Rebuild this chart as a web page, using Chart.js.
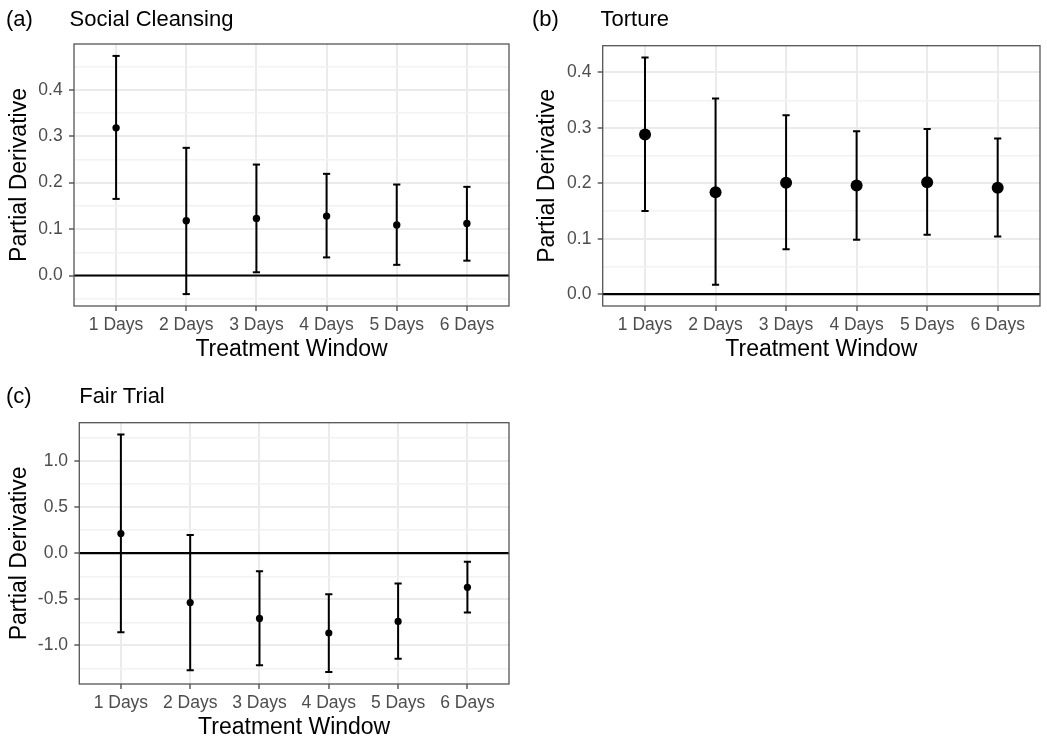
<!DOCTYPE html>
<html><head><meta charset="utf-8">
<script src="https://cdn.jsdelivr.net/npm/chart.js@4.4.1/dist/chart.umd.min.js"></script>
<style>
html,body{margin:0;padding:0;background:#fff;}
body{width:1047px;height:739px;position:relative;overflow:hidden;font-family:"Liberation Sans",Arial,sans-serif;}
canvas{position:absolute;}
.t{position:absolute;font-size:22px;line-height:22px;color:#000;white-space:nowrap;}
</style></head><body>
<canvas id="ca" width="520" height="370" style="left:0;top:0"></canvas>
<canvas id="cb" width="527" height="370" style="left:520px;top:0"></canvas>
<canvas id="cc" width="520" height="380" style="left:0;top:370px"></canvas>
<div class="t" style="left:6px;top:8px">(a)</div>
<div class="t" style="left:69.6px;top:8px">Social Cleansing</div>
<div class="t" style="left:532px;top:7.5px">(b)</div>
<div class="t" style="left:600.5px;top:7.5px">Torture</div>
<div class="t" style="left:6px;top:384.7px">(c)</div>
<div class="t" style="left:79.2px;top:384.7px">Fair Trial</div>
<script>
const categories = ["1 Days","2 Days","3 Days","4 Days","5 Days","6 Days"];
const estA  = [0.318, 0.118, 0.123, 0.128, 0.109, 0.112];
const lowA  = [0.165, -0.040, 0.007, 0.039, 0.023, 0.032];
const highA = [0.473, 0.275, 0.239, 0.219, 0.196, 0.191];
const estB  = [0.288, 0.184, 0.201, 0.196, 0.202, 0.192];
const lowB  = [0.150, 0.017, 0.081, 0.098, 0.107, 0.104];
const highB = [0.427, 0.353, 0.323, 0.294, 0.298, 0.281];
const estC  = [0.212, -0.535, -0.707, -0.865, -0.740, -0.370];
const lowC  = [-0.858, -1.268, -1.214, -1.289, -1.145, -0.643];
const highC = [1.285, 0.197, -0.197, -0.445, -0.330, -0.093];
const yTicksA = [0.0, 0.1, 0.2, 0.3, 0.4];
const yTicksB = [0.0, 0.1, 0.2, 0.3, 0.4];
const yTicksC = [-1.0, -0.5, 0.0, 0.5, 1.0];
const xTitle = "Treatment Window";
const yTitle = "Partial Derivative";

const FAMILY = "'Liberation Sans', Arial, Helvetica, sans-serif";
Chart.defaults.font.family = FAMILY;

const framePlugin = {
  id: 'frame',
  beforeDatasetsDraw(chart) {
    const {ctx, chartArea: a, scales: {y}} = chart;
    const py = y.getPixelForValue(0);
    ctx.save();
    ctx.strokeStyle = '#000'; ctx.lineWidth = 2.2;
    ctx.beginPath(); ctx.moveTo(a.left, py); ctx.lineTo(a.right, py); ctx.stroke();
    ctx.restore();
  },
  afterDraw(chart) {
    const {ctx, chartArea: a} = chart;
    ctx.save();
    ctx.strokeStyle = '#555'; ctx.lineWidth = 1.3;
    ctx.strokeRect(a.left, a.top, a.right - a.left, a.bottom - a.top);
    ctx.restore();
  }
};

function makePanel(id, est, low, high, majors, lay) {
  const lo = Math.min(0, ...low), hi = Math.max(0, ...high);
  const pad = 0.05 * (hi - lo);
  const yMin = lo - pad, yMax = hi + pad;
  const step = majors[1] - majors[0];
  const minors = [];
  for (let i = 0; i < majors.length - 1; i++) minors.push((majors[i] + majors[i+1]) / 2);
  minors.push(majors[0] - step / 2, majors[majors.length-1] + step / 2);
  const allTicks = majors.concat(minors).filter(v => v >= yMin && v <= yMax).sort((a,b)=>a-b);
  const isMajor = v => majors.some(m => Math.abs(m - v) < 1e-9);

  const errLine = [];
  low.forEach((l, i) => { errLine.push({x: i+1, y: l}, {x: i+1, y: high[i]}, {x: i+1, y: null}); });
  const pts = a => a.map((v, i) => ({x: i+1, y: v}));

  new Chart(document.getElementById(id), {
    type: 'line',
    data: { datasets: [
      { data: errLine, borderColor: '#000', borderWidth: 2, pointRadius: 0, spanGaps: false, fill: false },
      { data: pts(high), showLine: false, pointStyle: 'line', pointRadius: 3.6, borderColor: '#000', pointBorderWidth: 2, borderWidth: 2 },
      { data: pts(low), showLine: false, pointStyle: 'line', pointRadius: 3.6, borderColor: '#000', pointBorderWidth: 2, borderWidth: 2 },
      { data: pts(est), showLine: false, pointStyle: 'circle', pointRadius: lay.r, backgroundColor: '#000', pointBackgroundColor: '#000', pointBorderWidth: 0, borderWidth: 0 }
    ]},
    options: {
      responsive: false, animation: false, devicePixelRatio: 1, events: [],
      layout: { padding: { left: lay.L, right: lay.R, top: lay.T, bottom: lay.B } },
      plugins: { legend: { display: false }, tooltip: { enabled: false }, title: { display: false } },
      scales: {
        x: {
          type: 'linear', min: 0.4, max: categories.length + 0.6,
          afterBuildTicks: s => { s.ticks = categories.map((c, i) => ({value: i + 1})); },
          afterFit: s => { s.height = lay.xH; },
          ticks: { callback: v => categories[Math.round(v) - 1], color: '#4d4d4d', font: {size: 17.5}, padding: 4, autoSkip: false, maxRotation: 0 },
          grid: { color: '#ebebeb', lineWidth: 2, drawTicks: true, tickLength: 5, tickColor: '#333', tickWidth: 1.2 },
          border: { display: false },
          title: { display: true, text: xTitle, color: '#000', font: {size: 23}, padding: 0 }
        },
        y: {
          type: 'linear', min: yMin, max: yMax,
          afterBuildTicks: s => { s.ticks = allTicks.map(v => ({value: v})); },
          afterFit: s => { s.width = lay.yW; },
          ticks: { callback: v => isMajor(v) ? v.toFixed(1) : '', color: '#4d4d4d', font: {size: 17.5}, padding: 6.3, autoSkip: false },
          grid: {
            color: c => (c.tick && !isMajor(c.tick.value)) ? '#f2f2f2' : '#ebebeb',
            lineWidth: c => (c.tick && !isMajor(c.tick.value)) ? 1.4 : 2,
            tickColor: c => (c.tick && !isMajor(c.tick.value)) ? 'rgba(0,0,0,0)' : '#333',
            drawTicks: true, tickLength: 5, tickWidth: 1.2
          },
          border: { display: false },
          title: { display: true, text: yTitle, color: '#000', font: {size: 23}, padding: 0 }
        }
      }
    },
    plugins: [framePlugin]
  });
}

makePanel('ca', estA, lowA, highA, yTicksA, { L: 5.4, R: 11, T: 44, B: 7, yW: 68.6, xH: 57, r: 3.7 });
makePanel('cb', estB, lowB, highB, yTicksB, { L: 13.7, R: 7, T: 45.7, B: 7, yW: 69, xH: 57, r: 6 });
makePanel('cc', estC, lowC, highC, yTicksC, { L: 5.4, R: 11, T: 52.7, B: 8.7, yW: 73.9, xH: 57.3, r: 3.6 });
</script>
</body></html>
